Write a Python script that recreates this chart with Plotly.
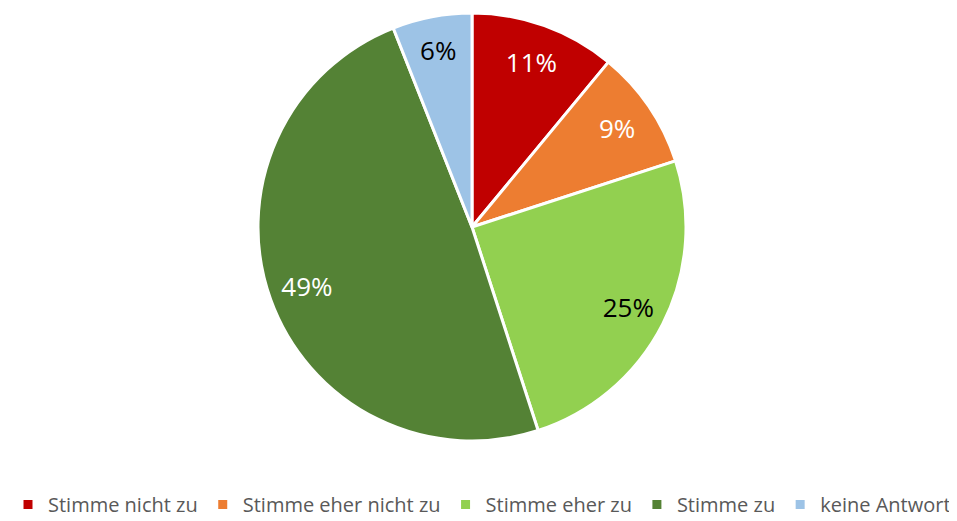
import plotly.graph_objects as go

labels = ["Stimme nicht zu", "Stimme eher nicht zu", "Stimme eher zu", "Stimme zu", "keine Antwort"]
values = [11, 9, 25, 49, 6]
colors = ["#C00000", "#ED7D31", "#92D050", "#548235", "#9DC3E6"]
text_colors = ["white", "white", "black", "white", "black"]

W, H = 957, 521
OFF = 8  # page body margin
dom = dict(x=[(258 - OFF) / W, (686 - OFF) / W],
           y=[(80 + OFF) / H, (508 + OFF) / H])

fig = go.Figure()
fig.add_trace(go.Pie(
    labels=labels,
    values=values,
    sort=False,
    direction="clockwise",
    rotation=0,
    marker=dict(colors=colors, line=dict(color="white", width=3)),
    textinfo="none",
    hoverinfo="label+percent",
    domain=dom,
))
# transparent ring used only to place the percentage labels further out
fig.add_trace(go.Pie(
    labels=labels,
    values=values,
    sort=False,
    direction="clockwise",
    rotation=0,
    hole=0.64,
    marker=dict(colors=["rgba(0,0,0,0)"] * len(values), line=dict(width=0)),
    texttemplate="%{percent:.0%}",
    textposition="inside",
    insidetextorientation="horizontal",
    insidetextfont=dict(color=text_colors, size=26, family="Open Sans"),
    hoverinfo="skip",
    showlegend=False,
    domain=dom,
))
fig.update_layout(
    width=W, height=H,
    margin=dict(l=0, r=0, t=0, b=0),
    paper_bgcolor="white",
    plot_bgcolor="white",
    font=dict(family="Open Sans", color="#595959"),
    showlegend=True,
    legend=dict(
        orientation="h",
        x=(478 - OFF) / W, xanchor="center",
        y=5 / H, yanchor="bottom",
        font=dict(size=20, color="#595959", family="Open Sans"),
        itemwidth=30,
        traceorder="normal",
    ),
)
fig.write_html("out.html")
